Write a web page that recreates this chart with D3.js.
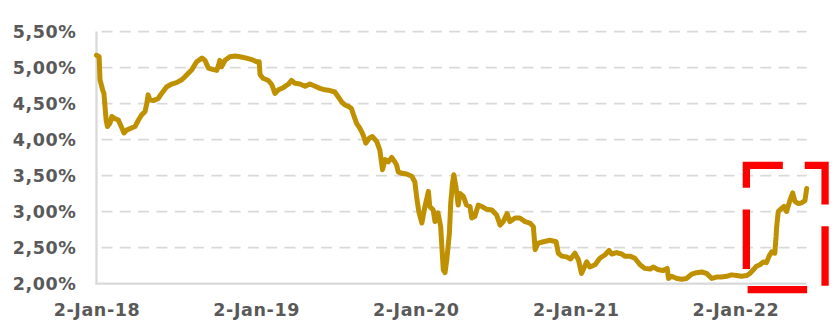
<!DOCTYPE html>
<html>
<head>
<meta charset="utf-8">
<script src="https://cdn.jsdelivr.net/npm/d3@7"></script>
<style>
  html, body { margin: 0; padding: 0; background: #ffffff; }
  svg { display: block; }
</style>
</head>
<body>
<div id="chart"></div>
<script>
const width = 835;
const height = 327;

// Daily yield series
const dates = [
  "2018-01-02","2018-01-08","2018-01-10","2018-01-16","2018-01-19","2018-01-24","2018-01-27","2018-02-02","2018-02-06","2018-02-13",
  "2018-02-21","2018-03-01","2018-03-06","2018-03-12","2018-03-23","2018-03-31","2018-04-08","2018-04-15","2018-04-23","2018-04-27",
  "2018-04-30","2018-05-04","2018-05-12","2018-05-23","2018-05-31","2018-06-11","2018-06-23","2018-07-04","2018-07-16","2018-07-23",
  "2018-07-31","2018-08-08","2018-08-19","2018-08-31","2018-09-07","2018-09-15","2018-09-26","2018-10-04","2018-10-08","2018-10-11",
  "2018-10-15","2018-10-23","2018-11-03","2018-11-15","2018-11-26","2018-12-11","2018-12-23","2019-01-03","2019-01-09","2019-01-11",
  "2019-01-18","2019-01-30","2019-02-07","2019-02-14","2019-02-22","2019-03-05","2019-03-17","2019-03-24","2019-04-01","2019-04-12",
  "2019-04-24","2019-05-05","2019-05-17","2019-05-28","2019-06-08","2019-06-20","2019-07-01","2019-07-09","2019-07-17","2019-07-24",
  "2019-08-01","2019-08-08","2019-08-14","2019-08-20","2019-08-27","2019-09-04","2019-09-10","2019-09-18","2019-09-25","2019-10-05",
  "2019-10-12","2019-10-18","2019-10-24","2019-10-31","2019-11-08","2019-11-15","2019-11-19","2019-11-23","2019-12-01","2019-12-12",
  "2019-12-24","2019-12-31","2020-01-05","2020-01-09","2020-01-16","2020-01-23","2020-01-31","2020-02-03","2020-02-11","2020-02-15",
  "2020-02-22","2020-02-28","2020-03-05","2020-03-09","2020-03-13","2020-03-19","2020-03-22","2020-03-26","2020-03-29","2020-04-03",
  "2020-04-08","2020-04-12","2020-04-20","2020-04-27","2020-05-05","2020-05-09","2020-05-16","2020-05-24","2020-06-01","2020-06-12",
  "2020-06-24","2020-07-05","2020-07-13","2020-07-20","2020-07-29","2020-08-04","2020-08-16","2020-08-27","2020-09-08","2020-09-19",
  "2020-09-27","2020-10-01","2020-10-08","2020-10-20","2020-11-04","2020-11-18","2020-11-23","2020-12-01","2020-12-12","2020-12-21",
  "2020-12-31","2021-01-08","2021-01-15","2021-01-27","2021-02-03","2021-02-15","2021-02-26","2021-03-10","2021-03-19","2021-03-25",
  "2021-04-05","2021-04-17","2021-04-24","2021-05-06","2021-05-17","2021-05-29","2021-06-09","2021-06-21","2021-06-28","2021-07-10",
  "2021-07-21","2021-07-30","2021-08-02","2021-08-09","2021-08-21","2021-09-01","2021-09-12","2021-09-24","2021-10-05","2021-10-17",
  "2021-10-28","2021-11-09","2021-11-20","2021-12-01","2021-12-13","2021-12-24","2022-01-05","2022-01-16","2022-01-28","2022-02-04",
  "2022-02-12","2022-02-19","2022-02-27","2022-03-07","2022-03-14","2022-03-20","2022-03-26","2022-04-02","2022-04-05","2022-04-06",
  "2022-04-10","2022-04-15","2022-04-23","2022-04-29","2022-05-07","2022-05-13","2022-05-18","2022-05-26","2022-06-02","2022-06-10",
  "2022-06-14"
];
const yields = [
  5.17, 5.15, 4.83, 4.69, 4.64, 4.27, 4.18, 4.23, 4.32, 4.29,
  4.27, 4.16, 4.09, 4.13, 4.16, 4.18, 4.27, 4.34, 4.39, 4.50,
  4.62, 4.55, 4.54, 4.57, 4.64, 4.73, 4.77, 4.79, 4.83, 4.87,
  4.92, 4.97, 5.08, 5.13, 5.10, 4.99, 4.97, 4.96, 5.03, 5.10,
  5.01, 5.10, 5.15, 5.16, 5.15, 5.13, 5.11, 5.08, 5.08, 4.90,
  4.85, 4.82, 4.76, 4.64, 4.69, 4.72, 4.77, 4.82, 4.78, 4.77,
  4.74, 4.77, 4.74, 4.71, 4.69, 4.68, 4.66, 4.59, 4.52, 4.48,
  4.46, 4.43, 4.32, 4.22, 4.16, 4.06, 3.95, 4.02, 4.04, 3.97,
  3.85, 3.58, 3.72, 3.69, 3.75, 3.69, 3.65, 3.55, 3.53, 3.52,
  3.49, 3.41, 3.16, 3.00, 2.84, 3.07, 3.28, 3.07, 3.02, 2.86,
  2.98, 2.79, 2.19, 2.15, 2.33, 2.70, 3.12, 3.39, 3.51, 3.34,
  3.09, 3.25, 3.21, 3.09, 3.07, 2.91, 2.93, 3.09, 3.07, 3.03,
  3.02, 2.95, 2.81, 2.86, 2.97, 2.86, 2.91, 2.91, 2.86, 2.84,
  2.79, 2.47, 2.56, 2.58, 2.60, 2.58, 2.42, 2.38, 2.37, 2.34,
  2.42, 2.33, 2.14, 2.30, 2.23, 2.26, 2.35, 2.40, 2.46, 2.41,
  2.43, 2.41, 2.38, 2.38, 2.35, 2.26, 2.21, 2.20, 2.23, 2.19,
  2.18, 2.21, 2.07, 2.10, 2.07, 2.06, 2.07, 2.13, 2.15, 2.16,
  2.14, 2.07, 2.09, 2.09, 2.10, 2.12, 2.11, 2.10, 2.11, 2.14,
  2.19, 2.24, 2.26, 2.30, 2.29, 2.38, 2.44, 2.42, 2.65, 2.77,
  3.00, 3.03, 3.07, 3.00, 3.16, 3.26, 3.14, 3.11, 3.12, 3.15,
  3.32
];

// axis ticks
const xTickDates = ["2018-01-02", "2019-01-02", "2020-01-02", "2021-01-02", "2022-01-02"];
const yTicks = [2.0, 2.5, 3.0, 3.5, 4.0, 4.5, 5.0, 5.5];

// highlighted recent period (red dashed frame)
const highlightDates = ["2022-01-27", "2022-07-26"];
const highlightRange = [1.914, 3.642];

const parse = d3.timeParse("%Y-%m-%d");
const series = dates.map((d, i) => ({ date: parse(d), value: yields[i] }));

const plot = { left: 96.5, right: 806.7, top: 31.5, bottom: 283.5 };
const labelFont = "'DejaVu Sans', Verdana, sans-serif";

const x = d3.scaleTime()
    .domain([parse("2018-01-02"), parse("2022-06-14")])
    .range([plot.left, plot.right]);
const y = d3.scaleLinear()
    .domain([2, 5.5])
    .range([plot.bottom, plot.top]);

const locale = d3.formatLocale({ decimal: ",", thousands: ".", grouping: [3], currency: ["", "€"] });
const pct = v => locale.format(".2f")(v) + "%";

const svg = d3.select("#chart")
    .append("svg")
    .attr("width", width)
    .attr("height", height);

svg.append("rect").attr("width", width).attr("height", height).attr("fill", "#ffffff");

// dashed gridlines
svg.append("g")
    .selectAll("line")
    .data(yTicks.filter(t => t > 2))
    .enter()
    .append("line")
    .attr("x1", plot.left + 2)
    .attr("x2", plot.right)
    .attr("y1", d => y(d))
    .attr("y2", d => y(d))
    .attr("stroke", "#d9d9d9")
    .attr("stroke-width", 1.75)
    .attr("stroke-dasharray", "11 7.3")
    .attr("stroke-dashoffset", -3);

// y axis
const yAxisGroup = svg.append("g")
    .attr("transform", `translate(${plot.left},0)`)
    .call(d3.axisLeft(y).tickValues(yTicks).tickFormat(pct).tickSize(0).tickPadding(20));
yAxisGroup.attr("font-family", null).attr("font-size", null);
yAxisGroup.select(".domain")
    .attr("stroke", "#d9d9d9")
    .attr("stroke-width", 2.25)
    .attr("d", `M0,${plot.top}V${plot.bottom + 1}`);
yAxisGroup.selectAll("text")
    .attr("fill", "#595959")
    .style("font-family", labelFont)
    .style("font-size", "17.5px")
    .style("font-weight", "bold")
    .style("letter-spacing", "0.6px")
    .attr("dy", "0.36em");

// x axis
const xAxisGroup = svg.append("g")
    .attr("transform", `translate(0,${plot.bottom})`)
    .call(d3.axisBottom(x).tickValues(xTickDates.map(parse)).tickFormat(d3.timeFormat("%-d-%b-%y")).tickSize(0).tickPadding(20));
xAxisGroup.attr("font-family", null).attr("font-size", null);
xAxisGroup.select(".domain")
    .attr("stroke", "#d9d9d9")
    .attr("stroke-width", 2.25)
    .attr("d", `M${plot.left - 1},0H${plot.right}`);
xAxisGroup.selectAll("text")
    .attr("fill", "#595959")
    .style("font-family", labelFont)
    .style("font-size", "17.5px")
    .style("font-weight", "bold")
    .style("letter-spacing", "0.6px");

// yield line
const line = d3.line()
    .x(d => x(d.date))
    .y(d => y(d.value));

svg.append("path")
    .datum(series)
    .attr("fill", "none")
    .attr("stroke", "#bf9000")
    .attr("stroke-width", 5)
    .attr("stroke-linejoin", "round")
    .attr("stroke-linecap", "round")
    .attr("d", line);

// red dashed highlight frame
const hx0 = x(parse(highlightDates[0]));
const hx1 = x(parse(highlightDates[1]));
const hy0 = y(highlightRange[1]);
const hy1 = y(highlightRange[0]);
svg.append("rect")
    .attr("x", hx0)
    .attr("y", hy0)
    .attr("width", hx1 - hx0)
    .attr("height", hy1 - hy0)
    .attr("fill", "none")
    .attr("stroke", "#ff0000")
    .attr("stroke-width", 7.3)
    .attr("stroke-dasharray", "59.5 21.86")
    .attr("stroke-dashoffset", 23);
</script>
</body>
</html>
